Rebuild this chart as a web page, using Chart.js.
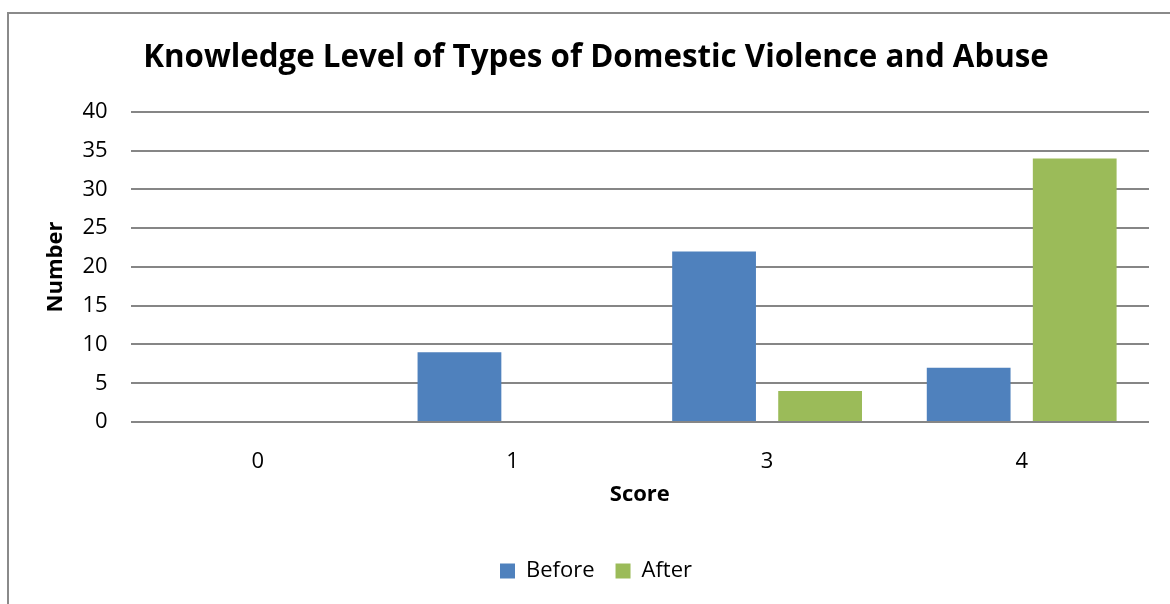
<!DOCTYPE html>
<html>
<head>
<meta charset="utf-8">
<script src="https://cdn.jsdelivr.net/npm/chart.js@4"></script>
<style>
  html, body { margin: 0; padding: 0; background: #fff; }
  #wrap { width: 1170px; height: 604px; position: relative; }
</style>
</head>
<body>
<div id="wrap"><canvas id="chart_score"></canvas></div>
<script>
var scores = ['0', '1', '3', '4'];
var before = [0, 9, 22, 7];
var after = [0, 0, 4, 34];
var yTicks = [0, 5, 10, 15, 20, 25, 30, 35, 40];

// chart frame like the office export
var frame = {
	id: 'frame',
	beforeDraw: function(chart) {
		var ctx = chart.ctx;
		ctx.save();
		ctx.strokeStyle = '#8a8a8a';
		ctx.lineWidth = 2;
		ctx.strokeRect(8, 13, 1200, 700);
		ctx.restore();
	}
};

var FONT = "'Open Sans', sans-serif";

window.scoreChart = new Chart(document.getElementById('chart_score'), {
	type: 'bar',
	data: {
		labels: scores,
		datasets: [
			{ label: 'Before', data: before, backgroundColor: '#4f81bd' },
			{ label: 'After', data: after, backgroundColor: '#9bbb59' }
		]
	},
	options: {
		responsive: true,
		maintainAspectRatio: false,
		animation: false,
		categoryPercentage: 0.833,
		barPercentage: 0.79,
		layout: { padding: { left: 43, right: 21, top: 0, bottom: 12 } },
		plugins: {
			title: {
				display: true,
				text: 'Knowledge Level of Types of Domestic Violence and Abuse',
				color: '#000',
				font: { family: FONT, size: 31.3, weight: 'bold' },
				padding: { top: 39, bottom: 35.4 }
			},
			legend: {
				position: 'bottom',
				labels: {
					color: '#000',
					font: { family: FONT, size: 22 },
					boxWidth: 15,
					boxHeight: 15,
					padding: 21
				}
			},
			tooltip: { enabled: false }
		},
		scales: {
			x: {
				grid: { display: false, tickLength: 21 },
				border: { display: false },
				ticks: { color: '#000', font: { family: FONT, size: 22 }, padding: 6 },
				title: {
					display: true,
					text: 'Score',
					color: '#000',
					font: { family: FONT, size: 22, weight: 'bold' },
					padding: { top: 0, bottom: 31.2 }
				}
			},
			y: {
				min: 0,
				max: 40,
				afterBuildTicks: function(axis) {
					axis.ticks = yTicks.map(function(v){ return { value: v }; });
				},
				grid: { color: '#868686', lineWidth: 2, drawTicks: true, tickLength: 10, tickColor: 'rgba(0,0,0,0)' },
				border: { display: false },
				ticks: { color: '#000', font: { family: FONT, size: 22 }, padding: 13 },
				title: {
					display: true,
					text: 'Number',
					color: '#000',
					font: { family: FONT, size: 22, weight: 'bold' },
					padding: { top: 0, bottom: 0 }
				}
			}
		}
	},
	plugins: [frame]
});
</script>
</body>
</html>
